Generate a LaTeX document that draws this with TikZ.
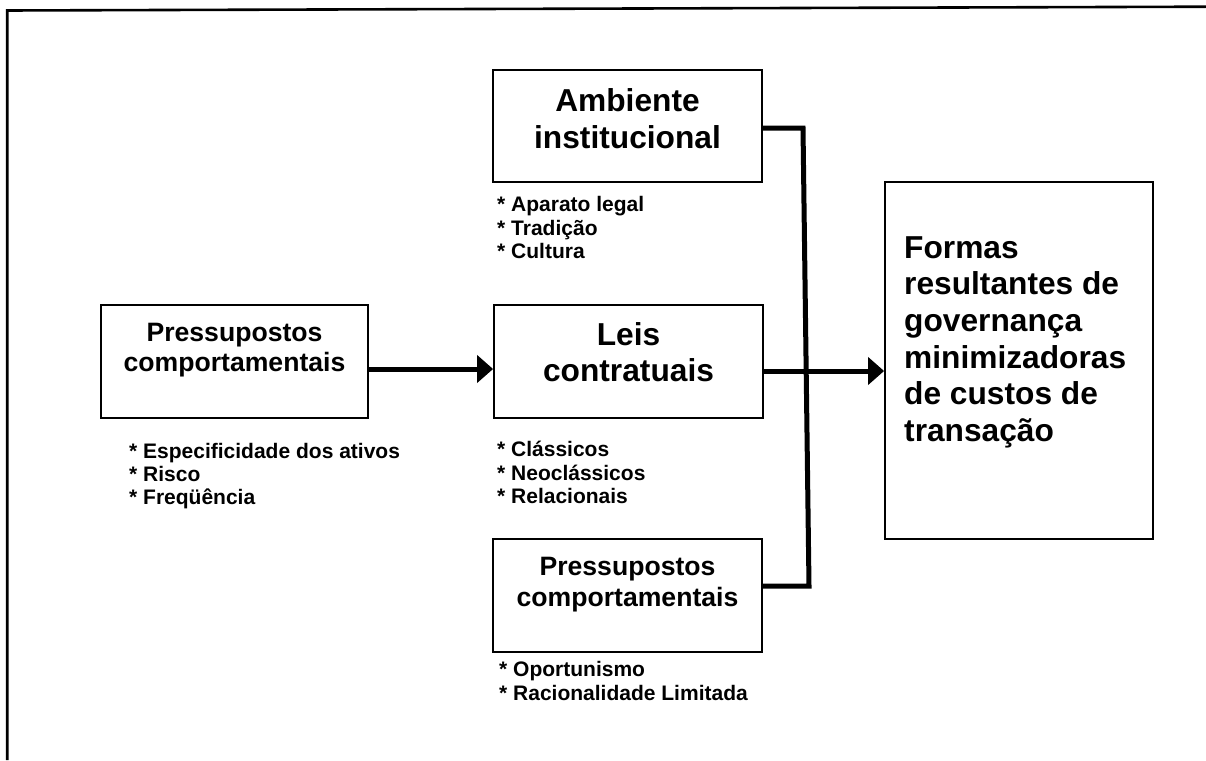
\documentclass[tikz,border=0pt]{standalone}
\usepackage{fontspec}
\setmainfont{Liberation Sans}
\usetikzlibrary{arrows.meta}
\begin{document}
\begin{tikzpicture}[x=1pt,y=-1pt,
  box/.style={draw, line width=1.8pt, inner sep=0pt},
  link/.style={line width=5pt},
  flow/.style={link, -{Triangle[length=16pt,width=27pt]}},
  bigtext/.style={font=\bfseries\fontsize{31.7}{36.7}\selectfont, anchor=base, inner sep=0pt},
  midtext/.style={font=\bfseries\fontsize{26.6}{30}\selectfont, anchor=base, inner sep=0pt},
  lefttext/.style={font=\bfseries\fontsize{31.7}{36.7}\selectfont, anchor=base west, inner sep=0pt},
  itemtext/.style={font=\bfseries\fontsize{21}{23.3}\selectfont, anchor=base west, inner sep=0pt},
]
\useasboundingbox (0,0) rectangle (1206,760);

% page frame: only its top and left sides lie on the page
\draw[line width=2.6pt] (7.2,760) -- (7.2,10.5) -- (1206,6.7);

% boxes
\node[box, minimum width=269pt, minimum height=112pt] (amb)    at (627.5,126)   {};
\node[box, minimum width=267pt, minimum height=113pt] (lp)     at (234.5,361.5) {};
\node[box, minimum width=269pt, minimum height=113pt] (leis)   at (628.5,361.5) {};
\node[box, minimum width=269pt, minimum height=113pt] (bot)    at (627.5,595.5) {};
\node[box, minimum width=268pt, minimum height=357pt] (formas) at (1019,360.5)  {};

% box titles
\node[bigtext] (amb-l1) at (627.5,111.7) {Ambiente};
\node[bigtext] (amb-l2) at (627.5,148.4) {institucional};
\node[bigtext] (leis-l1) at (628.5,345) {Leis};
\node[bigtext] (leis-l2) at (628.5,381.7) {contratuais};
\node[midtext] (lp-l1) at (234.5,341) {Pressupostos};
\node[midtext] (lp-l2) at (234.5,371) {comportamentais};
\node[midtext] (bot-l1) at (627.5,575.7) {Pressupostos};
\node[midtext] (bot-l2) at (627.5,606) {comportamentais};
\foreach \t [count=\i] in {Formas, resultantes de, governança, minimizadoras, de custos de, transação}
  \node[lefttext] (formas-l\i) at (904,{221.3+36.7*\i}) {\t};

% bullet lists
\foreach \t [count=\i] in {Aparato legal, Tradição, Cultura}
  \node[itemtext] (amb-i\i) at (497,{188.4+23.3*\i}) {* \t};
\foreach \t [count=\i] in {Especificidade dos ativos, Risco, Freqüência}
  \node[itemtext] (lp-i\i) at (129,{434.7+23.3*\i}) {* \t};
\foreach \t [count=\i] in {Clássicos, Neoclássicos, Relacionais}
  \node[itemtext] (leis-i\i) at (497,{433.4+23.3*\i}) {* \t};
\foreach \t [count=\i] in {Oportunismo, Racionalidade Limitada}
  \node[itemtext] (bot-i\i) at (499,{653.4+23.3*\i}) {* \t};

% connectors
\coordinate (bendtop) at (803,128);
\coordinate (bendbot) at (809,586);
\draw[link] (amb.east |- bendtop) -- (bendtop) -- (bendbot) -- (bot.east |- bendbot);

\coordinate (lvl1) at (0,369);
\draw[flow] (lp.east |- lvl1) -- (leis.west |- lvl1);
\coordinate (lvl2) at (0,371);
\draw[flow] (leis.east |- lvl2) -- (formas.west |- lvl2);
\end{tikzpicture}
\end{document}
